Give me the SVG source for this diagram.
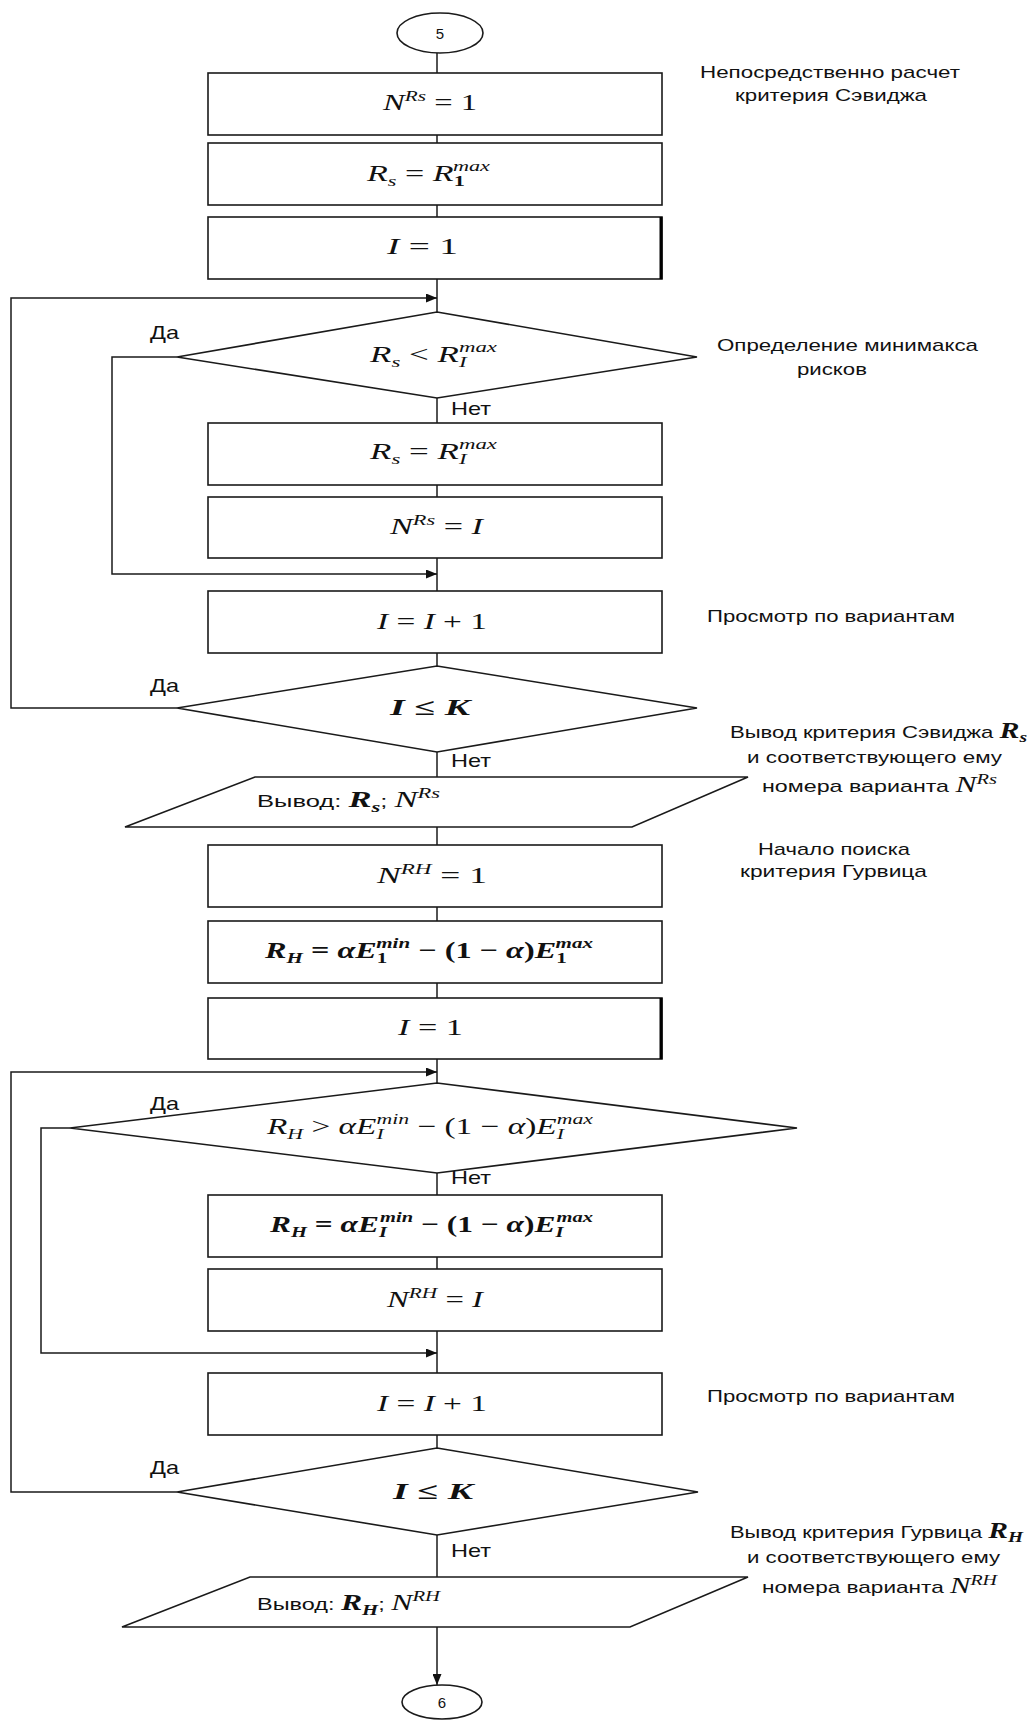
<svg xmlns="http://www.w3.org/2000/svg" width="1035" height="1720" viewBox="0 0 1035 1720">
<style>
.n{fill:#fff;stroke:#1a1a1a;stroke-width:1.6}
.c{fill:none;stroke:#1a1a1a;stroke-width:1.5}
.m{font-family:"Liberation Serif","DejaVu Serif",serif;font-style:italic;font-size:23px;fill:#111}
.u{font-style:normal}
.b{font-weight:bold}
.sm{font-size:15px}
.a{font-family:"Liberation Sans",Arial,sans-serif;font-size:17px;fill:#111}
.l{font-family:"Liberation Sans",Arial,sans-serif;font-size:19px;fill:#111}
.k{font-family:"Liberation Sans",Arial,sans-serif;font-size:15px;fill:#111;text-anchor:middle}
</style>
<defs>
<marker id="ah" markerUnits="userSpaceOnUse" markerWidth="11" markerHeight="9" refX="11" refY="4.5" orient="auto">
<path d="M0,0 L11,4.5 L0,9 z" fill="#111"/>
</marker>
</defs>
<rect width="1035" height="1720" fill="#fff"/>

<g id="connectors">
<line class="c" x1="437" y1="53" x2="437" y2="73"/>
<line class="c" x1="437" y1="135" x2="437" y2="143"/>
<line class="c" x1="437" y1="205" x2="437" y2="217"/>
<line class="c" x1="437" y1="279" x2="437" y2="312"/>
<line class="c" x1="437" y1="398" x2="437" y2="423"/>
<line class="c" x1="437" y1="485" x2="437" y2="497"/>
<line class="c" x1="437" y1="558" x2="437" y2="591"/>
<line class="c" x1="437" y1="653" x2="437" y2="666"/>
<line class="c" x1="437" y1="752" x2="437" y2="777"/>
<line class="c" x1="437" y1="827" x2="437" y2="845"/>
<line class="c" x1="437" y1="907" x2="437" y2="921"/>
<line class="c" x1="437" y1="983" x2="437" y2="998"/>
<line class="c" x1="437" y1="1059" x2="437" y2="1083"/>
<line class="c" x1="437" y1="1173" x2="437" y2="1195"/>
<line class="c" x1="437" y1="1257" x2="437" y2="1269"/>
<line class="c" x1="437" y1="1331" x2="437" y2="1373"/>
<line class="c" x1="437" y1="1435" x2="437" y2="1448"/>
<line class="c" x1="437" y1="1535" x2="437" y2="1577"/>
<line class="c" x1="437" y1="1627" x2="437" y2="1685" marker-end="url(#ah)"/>
<polyline class="c" points="177,708 11,708 11,298 437,298" marker-end="url(#ah)"/>
<polyline class="c" points="177,357 112,357 112,574 437,574" marker-end="url(#ah)"/>
<polyline class="c" points="177,1492 11,1492 11,1072 437,1072" marker-end="url(#ah)"/>
<polyline class="c" points="70,1128 41,1128 41,1353 437,1353" marker-end="url(#ah)"/>
</g>

<g id="start5">
<ellipse class="n" cx="440" cy="33" rx="43" ry="20"/>
<text class="k" x="440" y="39">5</text>
</g>

<g id="box1">
<rect class="n" x="208" y="73" width="454" height="62"/>
<text class="m" x="383" y="110" textLength="94" lengthAdjust="spacingAndGlyphs">N<tspan class="sm" dy="-9">Rs</tspan><tspan class="u" dy="9"> = 1</tspan></text>
</g>
<g id="box2">
<rect class="n" x="208" y="143" width="454" height="62"/>
<text class="m" x="367" y="181" textLength="123" lengthAdjust="spacingAndGlyphs">R<tspan class="sm" dy="5">s</tspan><tspan class="u" dy="-5"> = </tspan>R<tspan class="sm b u" dy="5">1</tspan><tspan class="sm" dx="-8" dy="-15">max</tspan></text>
</g>
<g id="box3">
<rect class="n" x="208" y="217" width="454" height="62"/>
<line x1="661" y1="217" x2="661" y2="279" stroke="#000" stroke-width="3"/>
<text class="m" x="387" y="254" textLength="71" lengthAdjust="spacingAndGlyphs">I<tspan class="u"> = 1</tspan></text>
</g>
<g id="dec1">
<polygon class="n" points="437,312 697,357 437,398 177,357"/>
<text class="m" x="370" y="362" textLength="127" lengthAdjust="spacingAndGlyphs">R<tspan class="sm" dy="5">s</tspan><tspan class="u" dy="-5"> &lt; </tspan>R<tspan class="sm" dy="5">I</tspan><tspan class="sm" dx="-5" dy="-15">max</tspan></text>
</g>
<g id="box4">
<rect class="n" x="208" y="423" width="454" height="62"/>
<text class="m" x="370" y="459" textLength="127" lengthAdjust="spacingAndGlyphs">R<tspan class="sm" dy="5">s</tspan><tspan class="u" dy="-5"> = </tspan>R<tspan class="sm" dy="5">I</tspan><tspan class="sm" dx="-5" dy="-15">max</tspan></text>
</g>
<g id="box5">
<rect class="n" x="208" y="497" width="454" height="61"/>
<text class="m" x="390" y="534" textLength="93" lengthAdjust="spacingAndGlyphs">N<tspan class="sm" dy="-9">Rs</tspan><tspan class="u" dy="9"> = </tspan>I</text>
</g>
<g id="box6">
<rect class="n" x="208" y="591" width="454" height="62"/>
<text class="m" x="377" y="629" textLength="110" lengthAdjust="spacingAndGlyphs">I<tspan class="u"> = </tspan>I<tspan class="u"> + 1</tspan></text>
</g>
<g id="dec2">
<polygon class="n" points="437,666 697,708 437,752 177,708"/>
<text class="m b" x="390" y="715" textLength="80" lengthAdjust="spacingAndGlyphs">I<tspan class="u"> ≤ </tspan>K</text>
</g>
<g id="out1">
<polygon class="n" points="255,777 748,777 632,827 125,827"/>
<text class="a" x="257" y="807" textLength="183" lengthAdjust="spacingAndGlyphs">Вывод: <tspan class="m b">R</tspan><tspan class="m b sm" dy="5">s</tspan><tspan dy="-5">; </tspan><tspan class="m">N</tspan><tspan class="m sm" dy="-9">Rs</tspan></text>
</g>
<g id="box7">
<rect class="n" x="208" y="845" width="454" height="62"/>
<text class="m" x="377" y="883" textLength="110" lengthAdjust="spacingAndGlyphs">N<tspan class="sm" dy="-9">RH</tspan><tspan class="u" dy="9"> = 1</tspan></text>
</g>
<g id="box8">
<rect class="n" x="208" y="921" width="454" height="62"/>
<text class="m b" x="265" y="958" textLength="328" lengthAdjust="spacingAndGlyphs">R<tspan class="sm" dy="5">H</tspan><tspan class="u" dy="-5"> = </tspan>αE<tspan class="sm u" dy="5">1</tspan><tspan class="sm" dx="-8" dy="-15">min</tspan><tspan class="u" dy="10"> − (1 − </tspan>α<tspan class="u">)</tspan>E<tspan class="sm u" dy="5">1</tspan><tspan class="sm" dx="-8" dy="-15">max</tspan></text>
</g>
<g id="box9">
<rect class="n" x="208" y="998" width="454" height="61"/>
<line x1="661" y1="998" x2="661" y2="1059" stroke="#000" stroke-width="3"/>
<text class="m" x="398" y="1035" textLength="65" lengthAdjust="spacingAndGlyphs">I<tspan class="u"> = 1</tspan></text>
</g>
<g id="dec3">
<polygon class="n" points="437,1083 797,1128 437,1173 70,1128"/>
<text class="m" x="267" y="1134" textLength="326" lengthAdjust="spacingAndGlyphs">R<tspan class="sm" dy="5">H</tspan><tspan class="u" dy="-5"> &gt; </tspan>αE<tspan class="sm" dy="5">I</tspan><tspan class="sm" dx="-5" dy="-15">min</tspan><tspan class="u" dy="10"> − (1 − </tspan>α<tspan class="u">)</tspan>E<tspan class="sm" dy="5">I</tspan><tspan class="sm" dx="-5" dy="-15">max</tspan></text>
</g>
<g id="box10">
<rect class="n" x="208" y="1195" width="454" height="62"/>
<text class="m b" x="270" y="1232" textLength="323" lengthAdjust="spacingAndGlyphs">R<tspan class="sm" dy="5">H</tspan><tspan class="u" dy="-5"> = </tspan>αE<tspan class="sm" dy="5">I</tspan><tspan class="sm" dx="-5" dy="-15">min</tspan><tspan class="u" dy="10"> − (1 − </tspan>α<tspan class="u">)</tspan>E<tspan class="sm" dy="5">I</tspan><tspan class="sm" dx="-5" dy="-15">max</tspan></text>
</g>
<g id="box11">
<rect class="n" x="208" y="1269" width="454" height="62"/>
<text class="m" x="387" y="1307" textLength="96" lengthAdjust="spacingAndGlyphs">N<tspan class="sm" dy="-9">RH</tspan><tspan class="u" dy="9"> = </tspan>I</text>
</g>
<g id="box12">
<rect class="n" x="208" y="1373" width="454" height="62"/>
<text class="m" x="377" y="1411" textLength="110" lengthAdjust="spacingAndGlyphs">I<tspan class="u"> = </tspan>I<tspan class="u"> + 1</tspan></text>
</g>
<g id="dec4">
<polygon class="n" points="437,1448 698,1492 437,1535 177,1492"/>
<text class="m b" x="393" y="1499" textLength="80" lengthAdjust="spacingAndGlyphs">I<tspan class="u"> ≤ </tspan>K</text>
</g>
<g id="out2">
<polygon class="n" points="250,1577 748,1577 630,1627 122,1627"/>
<text class="a" x="257" y="1610" textLength="183" lengthAdjust="spacingAndGlyphs">Вывод: <tspan class="m b">R</tspan><tspan class="m b sm" dy="5">H</tspan><tspan dy="-5">; </tspan><tspan class="m">N</tspan><tspan class="m sm" dy="-9">RH</tspan></text>
</g>
<g id="end6">
<ellipse class="n" cx="442" cy="1702" rx="40" ry="17"/>
<text class="k" x="442" y="1708">6</text>
</g>

<g id="labels">
<text class="l" x="150" y="339" textLength="29" lengthAdjust="spacingAndGlyphs">Да</text>
<text class="l" x="451" y="415" textLength="40" lengthAdjust="spacingAndGlyphs">Нет</text>
<text class="l" x="150" y="692" textLength="29" lengthAdjust="spacingAndGlyphs">Да</text>
<text class="l" x="451" y="767" textLength="40" lengthAdjust="spacingAndGlyphs">Нет</text>
<text class="l" x="150" y="1110" textLength="29" lengthAdjust="spacingAndGlyphs">Да</text>
<text class="l" x="451" y="1184" textLength="40" lengthAdjust="spacingAndGlyphs">Нет</text>
<text class="l" x="150" y="1474" textLength="29" lengthAdjust="spacingAndGlyphs">Да</text>
<text class="l" x="451" y="1557" textLength="40" lengthAdjust="spacingAndGlyphs">Нет</text>
</g>

<g id="notes">
<text class="a" x="700" y="78" textLength="260" lengthAdjust="spacingAndGlyphs">Непосредственно расчет</text>
<text class="a" x="735" y="101" textLength="192" lengthAdjust="spacingAndGlyphs">критерия Сэвиджа</text>
<text class="a" x="717" y="351" textLength="261" lengthAdjust="spacingAndGlyphs">Определение минимакса</text>
<text class="a" x="797" y="375" textLength="70" lengthAdjust="spacingAndGlyphs">рисков</text>
<text class="a" x="707" y="622" textLength="248" lengthAdjust="spacingAndGlyphs">Просмотр по вариантам</text>
<text class="a" x="730" y="738" textLength="297" lengthAdjust="spacingAndGlyphs">Вывод критерия Сэвиджа <tspan class="m b">R</tspan><tspan class="m b sm" dy="4">s</tspan></text>
<text class="a" x="747" y="763" textLength="255" lengthAdjust="spacingAndGlyphs">и соответствующего ему</text>
<text class="a" x="762" y="792" textLength="235" lengthAdjust="spacingAndGlyphs">номера варианта <tspan class="m">N</tspan><tspan class="m sm" dy="-8">Rs</tspan></text>
<text class="a" x="758" y="855" textLength="152" lengthAdjust="spacingAndGlyphs">Начало поиска</text>
<text class="a" x="740" y="877" textLength="187" lengthAdjust="spacingAndGlyphs">критерия Гурвица</text>
<text class="a" x="707" y="1402" textLength="248" lengthAdjust="spacingAndGlyphs">Просмотр по вариантам</text>
<text class="a" x="730" y="1538" textLength="293" lengthAdjust="spacingAndGlyphs">Вывод критерия Гурвица <tspan class="m b">R</tspan><tspan class="m b sm" dy="4">H</tspan></text>
<text class="a" x="747" y="1563" textLength="253" lengthAdjust="spacingAndGlyphs">и соответствующего ему</text>
<text class="a" x="762" y="1593" textLength="235" lengthAdjust="spacingAndGlyphs">номера варианта <tspan class="m">N</tspan><tspan class="m sm" dy="-8">RH</tspan></text>
</g>
</svg>
